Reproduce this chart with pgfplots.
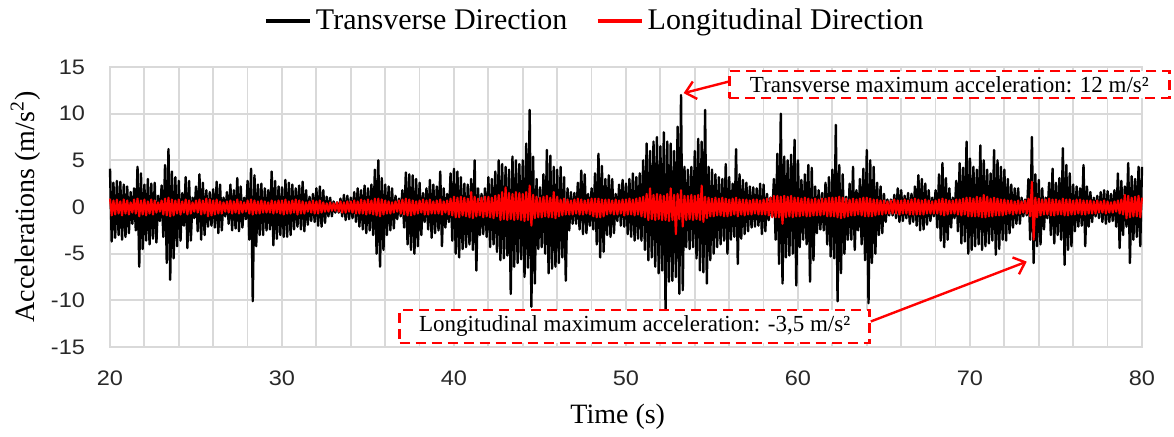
\documentclass[border=0pt]{standalone}
\usepackage{pgfplots}
\pgfplotsset{compat=1.18}
\usepackage{pgfplotstable}
\usetikzlibrary{arrows.meta}
\usepackage{fontspec}
\setmainfont{Liberation Serif}
\newfontfamily\arialfont{Liberation Sans}[FakeStretch=1.12]
\definecolor{gridgray}{RGB}{217,217,217}
\definecolor{tickgray}{RGB}{40,40,40}

% Transverse: alternating upper / lower envelope values every 0.1 s from t = 20 s
\pgfplotstableread[row sep=\\]{
y\\
4.1\\-3.7\\2.6\\-3.3\\2.8\\-3.0\\2.7\\-3.5\\2.4\\-3.2\\
2.2\\-2.8\\1.6\\-1.8\\2.0\\-2.5\\4.3\\-6.4\\3.6\\-4.5\\
2.4\\-3.6\\3.0\\-4.0\\2.5\\-3.4\\2.6\\-3.8\\1.2\\-1.5\\
2.3\\-3.2\\4.5\\-6.0\\6.2\\-7.8\\3.8\\-5.5\\3.2\\-4.2\\
2.8\\-3.6\\1.5\\-2.0\\3.2\\-4.4\\2.8\\-3.6\\1.0\\-1.2\\
2.2\\-2.6\\3.5\\-3.5\\2.6\\-3.0\\1.8\\-2.1\\1.6\\-2.0\\
1.9\\-2.2\\2.7\\-2.8\\2.4\\-2.5\\1.0\\-1.0\\1.6\\-1.8\\
2.4\\-2.5\\1.8\\-2.3\\3.1\\-2.6\\2.2\\-2.2\\1.0\\-1.3\\
2.8\\-3.5\\4.1\\-10.1\\3.4\\-4.2\\2.4\\-3.0\\2.5\\-3.0\\
2.0\\-2.5\\1.8\\-2.4\\3.8\\-4.1\\2.8\\-3.4\\2.2\\-3.0\\
2.1\\-3.2\\2.9\\-3.2\\2.6\\-3.0\\2.4\\-2.4\\2.0\\-2.1\\
2.3\\-2.4\\2.7\\-2.6\\1.8\\-1.9\\1.1\\-1.5\\1.4\\-1.6\\
2.0\\-2.0\\2.2\\-2.1\\1.8\\-1.7\\1.1\\-1.0\\1.0\\-1.0\\
0.6\\-0.6\\0.5\\-0.6\\0.9\\-1.0\\1.3\\-1.4\\1.2\\-1.3\\
1.0\\-1.2\\1.6\\-1.6\\2.0\\-2.1\\1.8\\-2.4\\2.3\\-2.8\\
2.0\\-2.5\\2.4\\-3.0\\4.0\\-5.0\\5.0\\-6.4\\3.1\\-4.6\\
2.4\\-3.0\\2.2\\-2.5\\2.0\\-2.3\\1.2\\-1.3\\0.9\\-1.0\\
1.8\\-2.2\\3.7\\-4.0\\3.5\\-4.6\\3.4\\-5.0\\3.0\\-4.2\\
2.6\\-3.0\\1.5\\-1.6\\2.0\\-2.4\\2.9\\-3.3\\2.4\\-2.8\\
2.2\\-2.5\\3.8\\-4.2\\2.0\\-2.2\\1.4\\-1.6\\3.6\\-3.6\\
4.1\\-5.0\\3.8\\-5.4\\3.2\\-4.5\\2.5\\-4.3\\2.4\\-4.0\\
3.0\\-4.6\\5.0\\-6.8\\2.0\\-3.0\\1.4\\-2.9\\2.0\\-3.2\\
3.2\\-4.3\\3.0\\-4.0\\3.8\\-4.8\\5.0\\-5.7\\4.6\\-5.5\\
4.3\\-5.2\\4.0\\-9.3\\5.4\\-6.4\\5.0\\-6.0\\4.6\\-5.6\\
5.0\\-7.5\\6.8\\-6.5\\10.4\\-10.7\\5.4\\-8.2\\3.0\\-4.5\\
2.1\\-4.3\\3.5\\-5.0\\6.1\\-7.1\\5.5\\-6.6\\4.3\\-6.4\\
4.0\\-6.0\\4.3\\-5.4\\3.2\\-7.9\\2.0\\-2.5\\1.6\\-1.8\\
1.5\\-1.8\\2.6\\-2.4\\3.9\\-2.9\\3.5\\-2.8\\1.4\\-2.0\\
2.0\\-2.4\\3.6\\-4.0\\5.7\\-5.4\\4.4\\-4.8\\3.0\\-3.0\\
3.4\\-3.2\\3.0\\-2.8\\1.4\\-1.5\\2.4\\-2.0\\2.9\\-2.1\\
2.5\\-2.9\\3.0\\-3.2\\3.6\\-3.6\\3.2\\-3.4\\3.6\\-3.6\\
5.0\\-4.6\\6.8\\-5.7\\6.0\\-5.4\\7.0\\-6.4\\7.5\\-7.1\\
6.5\\-6.8\\8.0\\-11.1\\7.0\\-8.0\\6.8\\-7.9\\6.0\\-7.5\\
8.6\\-9.3\\12.0\\-8.9\\4.3\\-4.3\\4.0\\-4.5\\4.3\\-4.3\\
6.0\\-5.5\\7.3\\-6.8\\7.0\\-7.0\\10.4\\-8.2\\4.3\\-5.7\\
4.0\\-5.0\\3.5\\-4.3\\3.2\\-4.0\\3.0\\-3.6\\4.6\\-5.0\\
3.2\\-3.5\\2.5\\-3.2\\6.2\\-6.1\\3.5\\-3.4\\2.9\\-2.9\\
2.6\\-2.6\\2.2\\-2.2\\2.1\\-2.1\\2.0\\-2.0\\2.5\\-2.9\\
2.4\\-2.6\\1.4\\-1.4\\1.0\\-1.0\\3.0\\-3.5\\5.7\\-6.1\\
10.0\\-8.2\\5.4\\-5.4\\5.0\\-5.2\\5.6\\-5.0\\7.2\\-8.4\\
5.0\\-4.3\\2.9\\-3.5\\3.5\\-4.0\\4.5\\-8.0\\4.2\\-5.7\\
2.2\\-2.8\\1.8\\-2.4\\1.5\\-2.5\\2.6\\-4.0\\3.2\\-5.3\\
4.0\\-5.5\\8.8\\-10.1\\4.5\\-7.1\\3.5\\-5.0\\1.1\\-3.5\\
2.5\\-3.5\\4.3\\-4.6\\1.8\\-2.5\\3.0\\-4.0\\4.1\\-5.7\\
6.1\\-10.3\\5.0\\-6.0\\4.3\\-5.0\\2.6\\-3.0\\2.2\\-2.8\\
1.4\\-1.6\\0.8\\-0.9\\0.8\\-0.9\\1.3\\-1.2\\2.0\\-1.6\\
1.8\\-1.5\\1.2\\-1.2\\1.5\\-1.8\\1.4\\-1.6\\2.2\\-2.0\\
3.4\\-2.5\\3.0\\-2.4\\2.5\\-1.9\\1.8\\-1.5\\1.0\\-1.0\\
1.8\\-2.2\\3.5\\-3.6\\4.7\\-4.3\\3.1\\-3.5\\2.0\\-2.2\\
1.0\\-1.2\\2.8\\-2.6\\4.7\\-3.9\\4.2\\-3.7\\7.0\\-5.0\\
5.2\\-4.6\\4.3\\-4.2\\4.0\\-4.0\\6.6\\-4.6\\5.0\\-4.2\\
4.0\\-3.9\\3.6\\-3.6\\6.1\\-5.1\\5.0\\-4.5\\4.3\\-3.5\\
4.0\\-3.6\\3.0\\-2.8\\2.4\\-2.2\\2.0\\-1.8\\2.0\\-1.8\\
1.0\\-1.0\\0.8\\-0.9\\3.0\\-3.5\\7.5\\-6.0\\3.5\\-4.2\\
2.9\\-4.0\\2.0\\-2.4\\1.0\\-1.2\\2.6\\-3.0\\4.1\\-3.9\\
2.6\\-3.0\\3.1\\-3.5\\6.3\\-6.2\\4.5\\-4.6\\3.6\\-4.2\\
2.4\\-2.6\\2.2\\-2.1\\2.0\\-2.0\\4.5\\-4.2\\2.2\\-2.1\\
1.6\\-1.6\\1.0\\-1.0\\1.2\\-1.2\\1.6\\-1.6\\1.8\\-1.8\\
1.7\\-1.6\\1.4\\-1.5\\1.8\\-2.1\\3.6\\-4.4\\2.8\\-3.0\\
2.2\\-2.1\\4.7\\-6.0\\3.3\\-3.5\\3.0\\-3.2\\4.3\\-4.2\\
4.3\\
}\transverse

% Longitudinal: alternating upper / lower envelope values every 0.1 s from t = 20 s
\pgfplotstableread[row sep=\\]{
y\\
0.9\\-0.9\\0.7\\-0.8\\0.8\\-0.7\\0.6\\-0.9\\0.8\\-0.7\\
0.7\\-0.8\\0.5\\-0.6\\0.8\\-0.7\\0.9\\-1.0\\0.7\\-0.8\\
0.8\\-0.9\\0.6\\-0.7\\0.8\\-0.8\\0.7\\-0.6\\0.5\\-0.5\\
0.7\\-0.8\\0.9\\-0.9\\1.0\\-1.0\\0.8\\-0.9\\0.7\\-0.7\\
0.8\\-0.8\\0.6\\-0.6\\0.8\\-0.8\\0.7\\-0.7\\0.5\\-0.5\\
0.7\\-0.6\\0.8\\-0.8\\0.7\\-0.7\\0.9\\-1.0\\0.8\\-0.9\\
0.7\\-0.8\\0.8\\-0.7\\0.6\\-0.7\\0.5\\-0.5\\0.6\\-0.6\\
0.7\\-0.7\\0.6\\-0.6\\0.8\\-0.7\\0.6\\-0.6\\0.5\\-0.5\\
0.7\\-0.7\\0.8\\-0.8\\0.7\\-0.7\\0.6\\-0.7\\0.7\\-0.6\\
0.6\\-0.6\\0.5\\-0.6\\0.7\\-0.7\\0.6\\-0.6\\0.7\\-0.7\\
0.7\\-0.8\\0.8\\-0.7\\0.6\\-0.7\\0.7\\-0.6\\0.8\\-0.8\\
0.7\\-0.7\\0.6\\-0.7\\0.5\\-0.5\\0.6\\-0.6\\0.7\\-0.7\\
0.6\\-0.7\\0.7\\-0.6\\0.5\\-0.5\\0.4\\-0.5\\0.5\\-0.4\\
0.4\\-0.4\\0.5\\-0.5\\0.6\\-0.6\\0.5\\-0.6\\0.6\\-0.5\\
0.6\\-0.6\\0.7\\-0.7\\0.6\\-0.7\\0.8\\-0.7\\0.7\\-0.8\\
0.8\\-0.7\\0.7\\-0.8\\0.9\\-0.9\\0.9\\-1.0\\0.8\\-0.8\\
0.7\\-0.7\\0.6\\-0.7\\0.5\\-0.6\\0.6\\-0.5\\0.7\\-0.7\\
0.8\\-0.8\\0.9\\-0.9\\0.8\\-0.9\\0.7\\-0.8\\0.6\\-0.7\\
0.7\\-0.6\\0.8\\-0.8\\0.7\\-0.8\\0.8\\-0.7\\0.6\\-0.7\\
0.7\\-0.7\\0.8\\-0.8\\0.6\\-0.6\\0.7\\-0.8\\0.9\\-0.9\\
1.1\\-1.1\\1.0\\-1.1\\1.1\\-0.9\\1.0\\-1.0\\0.9\\-1.1\\
1.6\\-1.2\\1.1\\-1.0\\0.9\\-0.9\\1.0\\-1.1\\1.1\\-1.0\\
1.1\\-1.1\\1.0\\-1.2\\1.2\\-1.0\\1.3\\-1.4\\1.6\\-1.3\\
2.1\\-1.4\\1.5\\-1.3\\1.4\\-1.4\\1.6\\-1.3\\1.5\\-1.4\\
1.4\\-1.5\\1.6\\-1.4\\2.3\\-2.0\\1.3\\-1.2\\1.1\\-1.1\\
1.0\\-1.1\\1.1\\-1.0\\1.2\\-1.1\\1.0\\-1.1\\1.6\\-1.2\\
1.1\\-1.0\\0.8\\-0.9\\0.9\\-0.8\\0.8\\-0.8\\0.7\\-0.8\\
0.8\\-0.7\\0.9\\-0.8\\0.8\\-0.8\\0.7\\-0.7\\0.8\\-0.8\\
0.9\\-1.0\\0.9\\-1.1\\0.9\\-1.1\\0.8\\-1.0\\0.8\\-0.8\\
0.8\\-0.7\\0.7\\-0.8\\0.8\\-0.8\\0.7\\-0.7\\0.8\\-0.9\\
0.8\\-0.8\\0.9\\-0.8\\0.8\\-0.9\\0.9\\-0.8\\1.0\\-1.0\\
1.1\\-1.1\\1.4\\-1.4\\2.0\\-1.3\\1.3\\-1.4\\1.4\\-1.3\\
1.3\\-1.4\\1.2\\-1.4\\1.4\\-1.5\\2.0\\-1.4\\1.3\\-2.9\\
1.4\\-1.3\\1.8\\-2.1\\1.2\\-1.4\\1.2\\-1.3\\1.3\\-1.4\\
1.2\\-1.3\\1.3\\-1.4\\2.3\\-1.6\\1.1\\-1.2\\1.0\\-1.0\\
0.9\\-1.0\\1.0\\-0.9\\0.9\\-0.9\\1.0\\-1.0\\0.9\\-1.0\\
0.8\\-0.9\\0.9\\-0.8\\1.0\\-1.0\\0.8\\-0.8\\0.8\\-0.9\\
0.8\\-0.8\\0.7\\-0.8\\0.8\\-0.7\\0.8\\-0.8\\0.7\\-0.8\\
0.8\\-0.8\\0.9\\-0.9\\1.0\\-1.1\\1.2\\-1.1\\1.2\\-1.1\\
1.1\\-1.8\\1.2\\-1.1\\1.1\\-1.0\\1.2\\-1.1\\1.0\\-1.0\\
1.0\\-1.0\\0.9\\-0.9\\1.0\\-1.0\\0.9\\-1.0\\0.8\\-0.9\\
0.9\\-0.9\\0.8\\-0.9\\0.9\\-0.8\\0.9\\-1.0\\1.0\\-1.0\\
1.0\\-1.0\\1.0\\-1.1\\1.1\\-1.2\\1.0\\-1.1\\0.9\\-1.0\\
0.8\\-0.9\\0.9\\-0.9\\0.8\\-0.8\\0.9\\-0.9\\1.0\\-1.0\\
1.0\\-1.0\\0.9\\-1.0\\0.8\\-0.9\\0.8\\-0.8\\0.7\\-0.8\\
0.7\\-0.7\\0.6\\-0.7\\0.7\\-0.7\\0.8\\-0.7\\0.7\\-0.8\\
0.7\\-0.7\\0.8\\-0.7\\0.7\\-0.8\\0.8\\-0.8\\0.9\\-0.8\\
0.8\\-0.8\\0.7\\-0.8\\0.8\\-0.7\\0.7\\-0.7\\0.6\\-0.7\\
0.7\\-0.7\\0.8\\-0.8\\0.9\\-0.9\\0.8\\-0.8\\0.7\\-0.7\\
0.7\\-0.7\\0.8\\-0.8\\0.8\\-0.9\\0.9\\-0.8\\1.0\\-1.0\\
1.0\\-1.0\\0.9\\-1.0\\1.1\\-1.0\\1.0\\-1.1\\1.3\\-1.1\\
1.1\\-1.0\\0.9\\-1.0\\1.0\\-0.9\\0.9\\-0.9\\0.8\\-0.9\\
0.8\\-0.8\\0.7\\-0.7\\0.7\\-0.8\\0.6\\-0.7\\0.7\\-0.7\\
0.6\\-0.6\\0.7\\-0.7\\0.9\\-1.0\\2.7\\-3.5\\1.0\\-1.1\\
0.9\\-0.9\\0.8\\-0.8\\0.8\\-0.8\\0.9\\-0.9\\0.8\\-0.9\\
0.8\\-0.8\\0.7\\-0.8\\0.9\\-0.9\\0.8\\-0.9\\0.8\\-0.8\\
0.7\\-0.8\\0.8\\-0.7\\0.8\\-0.8\\0.7\\-0.8\\0.7\\-0.7\\
0.7\\-0.7\\0.6\\-0.7\\0.7\\-0.6\\0.6\\-0.6\\0.7\\-0.7\\
0.6\\-0.6\\0.5\\-0.6\\0.6\\-0.5\\0.7\\-0.7\\0.8\\-0.8\\
1.3\\-1.2\\1.2\\-1.1\\1.0\\-1.0\\1.1\\-1.0\\1.2\\-1.1\\
1.0\\
}\longitudinal

\begin{document}
\begin{tikzpicture}
\useasboundingbox (-55pt,-44.5pt) rectangle (532pt,173.5pt);
\begin{axis}[
  at={(0pt,0pt)}, anchor=south west,
  scale only axis, width=516pt, height=140pt,
  xmin=20, xmax=80, ymin=-15, ymax=15,
  xtick={20,30,...,80}, ytick={-15,-10,...,15},
  minor xtick={22,24,...,78},
  grid=both,
  major grid style={gridgray, line width=0.9pt},
  minor grid style={gridgray, line width=0.9pt},
  axis line style={gridgray, line width=0.9pt},
  major tick length=0pt, minor tick length=0pt,
  ticklabel style={font=\arialfont\fontsize{10.5}{12}\selectfont, text=tickgray},
  /pgf/number format/assume math mode=true,
  xticklabel style={yshift=-8.5pt},
  yticklabel style={xshift=-9pt},
  xlabel={Time (s)},
  ylabel={Accelerations (m/s\textsuperscript{2})},
  label style={font=\fontsize{14}{16}\selectfont},
  xlabel style={at={(axis description cs:0.492,-0.25)}, anchor=center},
  ylabel style={at={(axis description cs:-0.082,0.5)}, anchor=center},
  legend style={draw=none, fill=none, at={(axis description cs:0.4705,1.165)}, anchor=center,
    font=\fontsize{15}{17}\selectfont, /tikz/every even column/.append style={column sep=12pt}},
  legend columns=2,
  legend image code/.code={\draw[#1, line width=2.2pt] (0pt,0pt) -- (22pt,0pt);},
  clip=false,
]
\addplot[black, line width=1.2pt, line join=round] table[x expr=\coordindex*0.1+20, y index=0] {\transverse};
\addlegendentry{Transverse Direction}
\addplot[red, line width=1.05pt, line join=round] table[x expr=\coordindex*0.1+20, y index=0] {\longitudinal};
\addlegendentry{Longitudinal Direction}

\node[draw=red, line width=1.2pt, dash pattern=on 5pt off 3pt, fill=white,
  font=\fontsize{11.5}{13}\selectfont, minimum width=220pt, minimum height=13.5pt, inner sep=1.5pt]
  (tbox) at (axis cs:68.8,13.1) {Transverse maximum acceleration: 12 m/s²};
\draw[red, line width=1.2pt, -{Straight Barb[length=5pt,width=9pt]}]
  ([yshift=1.5pt]tbox.west) -- (axis cs:53.35,12.2);

\node[draw=red, line width=1.2pt, dash pattern=on 5pt off 3pt, fill=white,
  font=\fontsize{11.5}{13}\selectfont, minimum width=235pt, minimum height=16.5pt, inner sep=1.5pt]
  (bbox) at (axis cs:50.5,-12.8) {Longitudinal maximum acceleration: -3,5 m/s²};
\draw[red, line width=1.2pt, -{Straight Barb[length=5pt,width=9pt]}]
  ([yshift=2.5pt]bbox.east) -- (axis cs:73.3,-5.85);
\end{axis}
\end{tikzpicture}
\end{document}
